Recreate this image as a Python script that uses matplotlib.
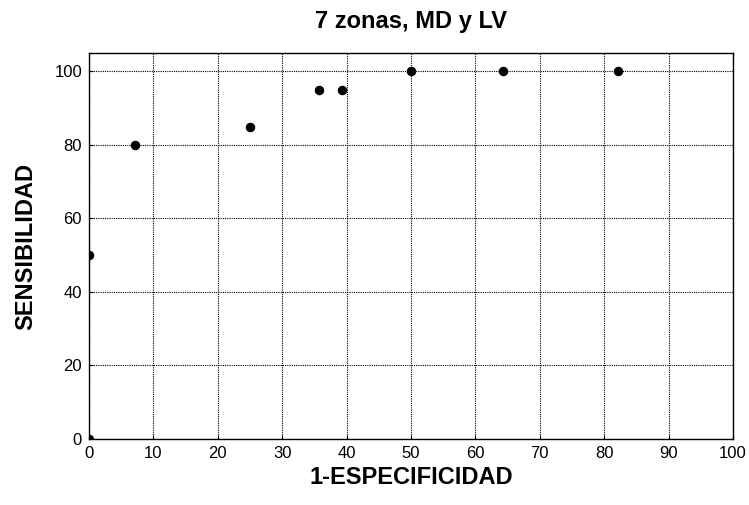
import matplotlib
matplotlib.use("Agg")
import matplotlib.pyplot as plt

plt.rcParams['font.family'] = ['Liberation Sans', 'DejaVu Sans']

x_vals = [0, 0, 7.14, 25.0, 35.71, 39.29, 50.0, 64.29, 82.14]
y_vals = [0, 50, 80, 85, 95, 95, 100, 100, 100]
x_ticks = [0, 10, 20, 30, 40, 50, 60, 70, 80, 90, 100]
y_ticks = [0, 20, 40, 60, 80, 100]

fig = plt.figure(figsize=(7.49, 5.05), dpi=100)
ax = fig.add_axes([89/749, 1 - 439/505, (733-89)/749, (439-53)/505])
ax.scatter(x_vals, y_vals, s=34, color='black', zorder=3, clip_on=True)
ax.set_xlim(0, 100)
ax.set_ylim(0, 105)
ax.set_xticks(x_ticks)
ax.set_yticks(y_ticks)
ax.grid(True, color='black', linestyle=(0, (1, 1)), linewidth=0.8)
ax.set_axisbelow(True)
ax.tick_params(direction='in', length=3, width=0.8, labelsize=12)
ax.tick_params(axis='x', pad=5)
ax.tick_params(axis='y', pad=5)
for s in ax.spines.values():
    s.set_linewidth(1.0)
ax.set_xlabel('1-ESPECIFICIDAD', fontsize=17, fontweight='bold', labelpad=4)
ax.set_ylabel('SENSIBILIDAD', fontsize=17, fontweight='bold', labelpad=12)
ax.set_title('7 zonas, MD y LV', fontsize=17, fontweight='bold', pad=18)
fig.savefig('out.png', dpi=100)
